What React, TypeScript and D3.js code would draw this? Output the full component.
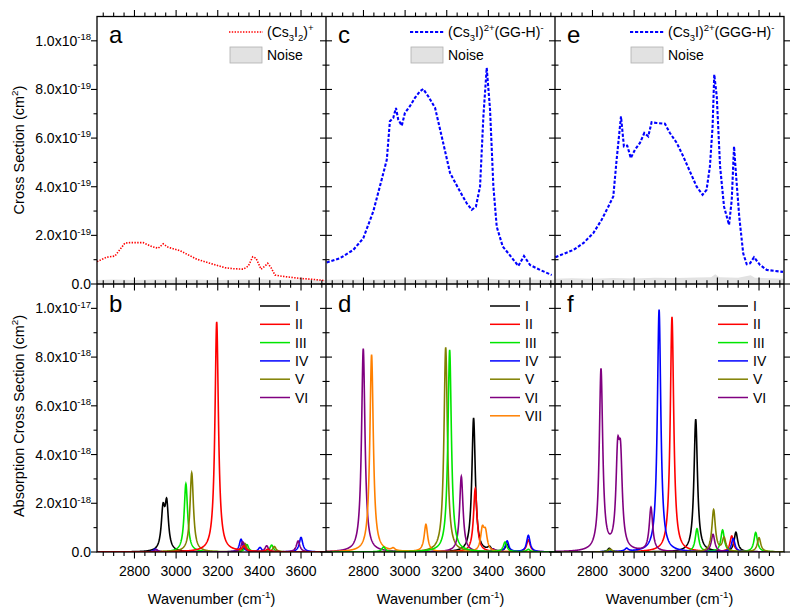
import React from "react";
import * as d3 from "d3";

// ---------- axes ----------
const X_DOMAIN: [number, number] = [2620, 3720];
const Y_DOMAIN: [number, number] = [0, 11];
const xMajorTicks = [2800, 3000, 3200, 3400, 3600];
const xMinorTicks = [2650, 2700, 2750, 2850, 2900, 2950, 3050, 3100, 3150, 3250, 3300, 3350, 3450, 3500, 3550, 3650, 3700];
const yMajorTicks = [0, 2, 4, 6, 8, 10];
const yMinorTicks = [1, 3, 5, 7, 9];
const yTickMantissa = ["0.0", "2.0x10", "4.0x10", "6.0x10", "8.0x10", "1.0x10"];
const topTickExp = ["", "-19", "-19", "-19", "-19", "-18"];
const bottomTickExp = ["", "-18", "-18", "-18", "-18", "-17"];

// ---------- top panels: experimental spectra (units 1e-19 cm^2) ----------
const specA: [number, number][] = [
  [2620, 0.92], [2666, 1.1], [2706, 1.15], [2754, 1.68], [2778, 1.7], [2842, 1.7], [2883, 1.54],
  [2914, 1.47], [2938, 1.65], [2962, 1.51], [3019, 1.37], [3099, 1.02], [3163, 0.85], [3235, 0.67],
  [3275, 0.63], [3323, 0.61], [3347, 0.74], [3368, 1.12], [3384, 1.06], [3408, 0.61], [3427, 0.74],
  [3440, 0.85], [3456, 0.67], [3475, 0.37], [3499, 0.33], [3547, 0.28], [3595, 0.23], [3659, 0.19],
  [3715, 0.14],
];
const specC: [number, number][] = [
  [2623, 0.88], [2687, 1.06], [2751, 1.4], [2799, 1.88], [2847, 2.98], [2887, 4.28], [2912, 5.11],
  [2927, 6.69], [2943, 6.83], [2956, 7.24], [2967, 6.76], [2984, 6.51], [2999, 7.03], [3023, 7.31],
  [3047, 7.65], [3071, 7.92], [3087, 8.02], [3111, 7.72], [3144, 7.24], [3183, 5.8], [3216, 4.56],
  [3264, 3.8], [3296, 3.32], [3320, 3.05], [3340, 3.18], [3360, 4.01], [3376, 6.89], [3392, 8.89],
  [3408, 7.17], [3424, 4.01], [3440, 2.36], [3469, 1.54], [3496, 1.26], [3544, 0.74], [3571, 1.15],
  [3600, 0.78], [3648, 0.58], [3704, 0.37],
];
const specE: [number, number][] = [
  [2622, 1.1], [2636, 1.15], [2708, 1.4], [2756, 1.68], [2804, 2.09], [2844, 2.64], [2876, 3.18],
  [2900, 3.6], [2916, 5.11], [2937, 6.89], [2951, 5.66], [2967, 5.69], [2984, 5.18], [3004, 5.52],
  [3028, 5.8], [3049, 6.21], [3068, 6.07], [3084, 6.65], [3108, 6.62], [3148, 6.59], [3172, 6.21],
  [3205, 5.8], [3236, 5.25], [3268, 4.63], [3300, 4.01], [3329, 3.67], [3348, 3.87], [3364, 4.83],
  [3377, 6.48], [3385, 8.61], [3397, 7.72], [3413, 4.83], [3432, 3.18], [3456, 2.43], [3469, 3.46],
  [3480, 5.66], [3489, 4.56], [3505, 2.77], [3524, 1.26], [3541, 0.81], [3557, 0.85], [3576, 1.1],
  [3605, 0.78], [3637, 0.58], [3701, 0.51], [3715, 0.5],
];
const noiseA: [number, number][] = [
  [2620, 0.16], [2700, 0.18], [2800, 0.16], [2900, 0.19], [3000, 0.17], [3100, 0.18], [3200, 0.16],
  [3300, 0.18], [3400, 0.2], [3500, 0.17], [3600, 0.18], [3720, 0.16],
];
const noiseC: [number, number][] = [
  [2620, 0.17], [2700, 0.18], [2800, 0.17], [2900, 0.19], [3000, 0.18], [3100, 0.2], [3200, 0.18],
  [3300, 0.19], [3400, 0.21], [3500, 0.18], [3600, 0.19], [3720, 0.17],
];
const noiseE: [number, number][] = [
  [2620, 0.22], [2700, 0.24], [2800, 0.22], [2900, 0.25], [3000, 0.23], [3100, 0.26], [3200, 0.25],
  [3300, 0.27], [3370, 0.28], [3390, 0.4], [3410, 0.28], [3500, 0.26], [3560, 0.36], [3580, 0.26],
  [3650, 0.24], [3720, 0.22],
];

// ---------- bottom panels: computed stick spectra (center cm-1, height 1e-18 cm^2) ----------
const PEAK_FWHM = 20;
const seriesNames = ["I", "II", "III", "IV", "V", "VI", "VII"];
const seriesColors = ["#000000", "#ff0000", "#00e600", "#0000ff", "#808000", "#800080", "#ff8000"];

const peaksB: [number, number][][] = [
  [[2937, 1.57], [2955, 1.83], [3330, 0.25]],
  [[3195, 9.45], [3325, 0.2], [3440, 0.1]],
  [[3047, 2.8], [3340, 0.3], [3459, 0.28]],
  [[2900, 0.12], [3312, 0.52], [3403, 0.18], [3600, 0.6]],
  [[3075, 3.25], [3330, 0.35], [3472, 0.22]],
  [[2905, 0.1], [3320, 0.42], [3435, 0.25], [3586, 0.45]],
];
const peaksD: [number, number][][] = [
  [[3329, 5.5], [3405, 0.15], [3490, 0.3]],
  [[3337, 2.6], [3592, 0.5]],
  [[2897, 0.2], [3214, 8.3], [3480, 0.4], [3592, 0.1]],
  [[3490, 0.45], [3592, 0.68]],
  [[3195, 8.4]],
  [[2799, 8.35], [3270, 3.1], [3423, 0.12]],
  [[2839, 8.1], [2943, 0.1], [3100, 1.12], [3371, 0.86], [3386, 0.72]],
];
const peaksF: [number, number][][] = [
  [[2881, 0.15], [3296, 5.45], [3489, 0.8]],
  [[3182, 9.65], [3469, 0.65]],
  [[2881, 0.1], [3302, 0.95], [3425, 0.9], [3584, 0.8]],
  [[2964, 0.12], [3120, 9.95], [3476, 0.55]],
  [[2885, 0.12], [3382, 1.72], [3432, 0.55], [3600, 0.58]],
  [[2841, 7.45], [2921, 3.44], [2935, 3.29], [3081, 1.8], [3379, 0.72]],
];
const drawOrderB = [0, 2, 3, 4, 5, 1];
const drawOrderD = [0, 1, 3, 4, 5, 6, 2];
const drawOrderF = [0, 1, 2, 3, 5, 4];

// ---------- layout ----------
const LEFTS = [97, 326, 555];
const PW = 229;
const TOP = 16.5;
const MID = 284;
const BOT = 552;
const FONT = "'Liberation Sans', Arial, Helvetica, sans-serif";

type Seg = { t: string; k?: "sub" | "sup" };

function Rich({ x, y, segs, size = 14, anchor = "start", transform }: { x: number; y: number; segs: Seg[]; size?: number; anchor?: string; transform?: string }) {
  let cur = 0;
  return (
    <text x={x} y={y} fontSize={size} textAnchor={anchor} fontFamily={FONT} fill="#000" transform={transform}>
      {segs.map((s, i) => {
        const target = s.k === "sub" ? size * 0.3 : s.k === "sup" ? -size * 0.4 : 0;
        const dy = target - cur;
        cur = target;
        return (
          <tspan key={i} dy={dy} fontSize={s.k ? size * 0.68 : size}>
            {s.t}
          </tspan>
        );
      })}
    </text>
  );
}

const grid = d3.range(X_DOMAIN[0], X_DOMAIN[1] + 0.5, 1);
function lorentzCurve(peaks: [number, number][]): [number, number][] {
  const hw = PEAK_FWHM / 2;
  return grid.map((x) => [x, d3.sum(peaks, (p) => p[1] / (1 + ((x - p[0]) / hw) ** 2))]);
}

export default function App() {
  const xScales = LEFTS.map((l) => d3.scaleLinear().domain(X_DOMAIN).range([l, l + PW]));
  const yTop = d3.scaleLinear().domain(Y_DOMAIN).range([MID, TOP]);
  const yBot = d3.scaleLinear().domain(Y_DOMAIN).range([BOT, MID]);
  const right = LEFTS[2] + PW;

  const topSpecs = [specA, specC, specE];
  const topNoise = [noiseA, noiseC, noiseE];
  const topColors = ["#ff0000", "#0000ff", "#0000ff"];
  const topDash = ["1.4 1.4", "3.2 1.8", "3.2 1.8"];
  const topWidth = [1.6, 2.1, 2.1];
  const topLetters = ["a", "c", "e"];
  const botLetters = ["b", "d", "f"];
  const botPeaks = [peaksB, peaksD, peaksF];
  const botOrder = [drawOrderB, drawOrderD, drawOrderF];
  const topLegend: Seg[][] = [
    [{ t: "(Cs" }, { t: "3", k: "sub" }, { t: "I" }, { t: "2", k: "sub" }, { t: ")" }, { t: "+", k: "sup" }],
    [{ t: "(Cs" }, { t: "3", k: "sub" }, { t: "I)" }, { t: "2+", k: "sup" }, { t: "(GG-H)" }, { t: "-", k: "sup" }],
    [{ t: "(Cs" }, { t: "3", k: "sub" }, { t: "I)" }, { t: "2+", k: "sup" }, { t: "(GGG-H)" }, { t: "-", k: "sup" }],
  ];
  const topLegendX = [229, 410, 630];
  const botLegendX = [260, 490, 718];

  const ticks: JSX.Element[] = [];
  let key = 0;
  const ln = (x1: number, y1: number, x2: number, y2: number) =>
    ticks.push(<line key={key++} x1={x1} y1={y1} x2={x2} y2={y2} stroke="#000" strokeWidth={1.1} />);

  xScales.forEach((xs) => {
    xMajorTicks.forEach((t) => {
      const x = xs(t);
      ln(x, TOP, x, TOP - 6.5);
      ln(x, MID - 6.5, x, MID + 6.5);
      ln(x, BOT, x, BOT + 6.5);
    });
    xMinorTicks.forEach((t) => {
      const x = xs(t);
      ln(x, TOP, x, TOP - 4);
      ln(x, MID - 3.8, x, MID + 3.8);
      ln(x, BOT, x, BOT + 4);
    });
  });
  [yTop, yBot].forEach((ys) => {
    yMajorTicks.forEach((t) => {
      const y = ys(t);
      ln(LEFTS[0], y, LEFTS[0] - 6, y);
      ln(LEFTS[1] - 6, y, LEFTS[1] + 6, y);
      ln(LEFTS[2] - 6, y, LEFTS[2] + 6, y);
      ln(right, y, right + 6, y);
    });
    yMinorTicks.forEach((t) => {
      const y = ys(t);
      ln(LEFTS[0], y, LEFTS[0] - 3.5, y);
      ln(LEFTS[1] - 3.5, y, LEFTS[1] + 3.5, y);
      ln(LEFTS[2] - 3.5, y, LEFTS[2] + 3.5, y);
      ln(right, y, right + 3.5, y);
    });
  });

  return (
    <svg width={800} height={614} style={{ position: "absolute", left: 0, top: 0, background: "#fff" }} fontFamily={FONT}>
      <rect x={0} y={0} width={800} height={614} fill="#fff" />
      <defs>
        {LEFTS.map((l, i) => (
          <React.Fragment key={i}>
            <clipPath id={`ct${i}`}>
              <rect x={l} y={TOP} width={PW} height={MID - TOP} />
            </clipPath>
            <clipPath id={`cb${i}`}>
              <rect x={l} y={MID} width={PW} height={BOT - MID} />
            </clipPath>
          </React.Fragment>
        ))}
      </defs>

      {/* top panels */}
      {xScales.map((xs, i) => {
        const line = d3.line<[number, number]>().x((d) => xs(d[0])).y((d) => yTop(d[1]));
        const area = d3.area<[number, number]>().x((d) => xs(d[0])).y0(yTop(0)).y1((d) => yTop(d[1]));
        return (
          <g key={`t${i}`} clipPath={`url(#ct${i})`}>
            <path d={area(topNoise[i]) || ""} fill="#e2e2e2" />
            <path d={line(topSpecs[i]) || ""} fill="none" stroke={topColors[i]} strokeWidth={topWidth[i]} strokeDasharray={topDash[i]} />
          </g>
        );
      })}

      {/* bottom panels */}
      {xScales.map((xs, i) => {
        const line = d3.line<[number, number]>().x((d) => xs(d[0])).y((d) => yBot(d[1]));
        return (
          <g key={`b${i}`} clipPath={`url(#cb${i})`}>
            {botOrder[i].map((s) => (
              <path key={s} d={line(lorentzCurve(botPeaks[i][s])) || ""} fill="none" stroke={seriesColors[s]} strokeWidth={1.6} />
            ))}
          </g>
        );
      })}

      {/* frames */}
      <rect x={LEFTS[0]} y={TOP} width={right - LEFTS[0]} height={BOT - TOP} fill="none" stroke="#000" strokeWidth={1.3} />
      <line x1={LEFTS[0]} y1={MID} x2={right} y2={MID} stroke="#000" strokeWidth={1.3} />
      <line x1={LEFTS[1]} y1={TOP} x2={LEFTS[1]} y2={BOT} stroke="#000" strokeWidth={1.3} />
      <line x1={LEFTS[2]} y1={TOP} x2={LEFTS[2]} y2={BOT} stroke="#000" strokeWidth={1.3} />
      {ticks}

      {/* y tick labels */}
      {yMajorTicks.map((t, j) => (
        <Rich key={`yt${j}`} x={91} y={yTop(t) + 5} anchor="end" segs={topTickExp[j] ? [{ t: yTickMantissa[j] }, { t: topTickExp[j], k: "sup" }] : [{ t: yTickMantissa[j] }]} />
      ))}
      {yMajorTicks.map((t, j) => (
        <Rich key={`yb${j}`} x={91} y={yBot(t) + 5} anchor="end" segs={bottomTickExp[j] ? [{ t: yTickMantissa[j] }, { t: bottomTickExp[j], k: "sup" }] : [{ t: yTickMantissa[j] }]} />
      ))}

      {/* x tick labels & titles */}
      {xScales.map((xs, i) => (
        <g key={`xl${i}`}>
          {xMajorTicks.map((t) => (
            <text key={t} x={xs(t)} y={576} fontSize={14} textAnchor="middle" fontFamily={FONT}>
              {t}
            </text>
          ))}
          <Rich x={LEFTS[i] + PW / 2} y={604} anchor="middle" size={14.5} segs={[{ t: "Wavenumber (cm" }, { t: "-1", k: "sup" }, { t: ")" }]} />
        </g>
      ))}

      {/* y titles */}
      <Rich x={0} y={0} anchor="middle" size={14.5} transform={`translate(24,150) rotate(-90)`} segs={[{ t: "Cross Section (cm" }, { t: "2", k: "sup" }, { t: ")" }]} />
      <Rich x={0} y={0} anchor="middle" size={14.5} transform={`translate(24,416) rotate(-90)`} segs={[{ t: "Absorption Cross Section (cm" }, { t: "2", k: "sup" }, { t: ")" }]} />

      {/* panel letters */}
      {LEFTS.map((l, i) => (
        <g key={`lt${i}`}>
          <text x={l + 12} y={43} fontSize={24} fontFamily={FONT}>{topLetters[i]}</text>
          <text x={l + 12} y={312} fontSize={24} fontFamily={FONT}>{botLetters[i]}</text>
        </g>
      ))}

      {/* top legends */}
      {topLegendX.map((lx, i) => (
        <g key={`tlg${i}`}>
          <line x1={lx} y1={32} x2={lx + 34} y2={32} stroke={topColors[i]} strokeWidth={topWidth[i]} strokeDasharray={topDash[i]} />
          <Rich x={lx + 38} y={37} segs={topLegend[i]} />
          <rect x={lx + 1} y={47} width={32} height={16} fill="#e2e2e2" stroke="#b0b0b0" strokeWidth={0.8} />
          <text x={lx + 38} y={60} fontSize={14} fontFamily={FONT}>Noise</text>
        </g>
      ))}

      {/* bottom legends */}
      {botLegendX.map((lx, i) => (
        <g key={`blg${i}`}>
          {botPeaks[i].map((_, s) => (
            <g key={s}>
              <line x1={lx} y1={306 + s * 18.3} x2={lx + 30} y2={306 + s * 18.3} stroke={seriesColors[s]} strokeWidth={1.5} />
              <text x={lx + 35} y={306 + s * 18.3 + 5} fontSize={14} fontFamily={FONT}>{seriesNames[s]}</text>
            </g>
          ))}
        </g>
      ))}
    </svg>
  );
}
